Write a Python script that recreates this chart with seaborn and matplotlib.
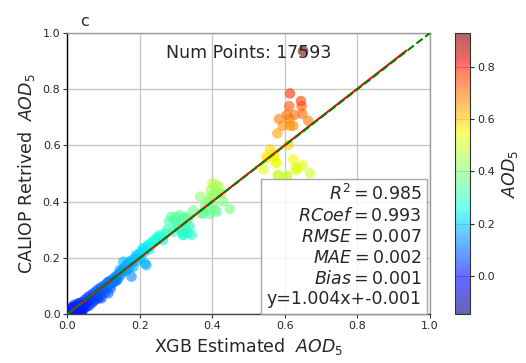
import numpy as np
import matplotlib
matplotlib.use("Agg")
import matplotlib.pyplot as plt
import seaborn as sns

# XGB estimated AOD (x) and CALIOP retrieved AOD (y), representative points
xgb_est = [
    0.004, 0.008, 0.012, 0.015, 0.018, 0.02, 0.022, 0.025, 0.028, 0.03, 0.032, 0.035, 0.038, 0.04, 0.042,
    0.045, 0.048, 0.05, 0.052, 0.055, 0.058, 0.06, 0.062, 0.065, 0.068, 0.07, 0.072, 0.075, 0.078, 0.08,
    0.083, 0.085, 0.088, 0.09, 0.093, 0.095, 0.094, 0.1, 0.102, 0.105, 0.108, 0.11, 0.113, 0.115, 0.118,
    0.12, 0.123, 0.125, 0.128, 0.13, 0.133, 0.136, 0.138, 0.14, 0.143, 0.145, 0.148, 0.15, 0.153, 0.154,
    0.156, 0.159, 0.16, 0.163, 0.165, 0.168, 0.17, 0.172, 0.175, 0.177, 0.18, 0.182, 0.185, 0.188, 0.19,
    0.193, 0.196, 0.2, 0.203, 0.205, 0.209, 0.212, 0.214, 0.218, 0.22, 0.223, 0.226, 0.23, 0.235, 0.24,
    0.246, 0.25, 0.255, 0.26, 0.264, 0.27, 0.005, 0.01, 0.015, 0.02, 0.025, 0.03, 0.035, 0.04, 0.045,
    0.012, 0.018, 0.024, 0.03, 0.113, 0.126, 0.136,
    0.275, 0.28, 0.287, 0.292, 0.295, 0.3, 0.301, 0.305, 0.31, 0.312, 0.315, 0.318, 0.32, 0.324, 0.325,
    0.329, 0.333, 0.333, 0.338, 0.343, 0.319, 0.33,
    0.347, 0.366, 0.37, 0.375, 0.379, 0.386, 0.393, 0.393, 0.40, 0.402, 0.402, 0.407, 0.41, 0.412, 0.412,
    0.419, 0.423, 0.43, 0.448, 0.395, 0.385,
    0.540, 0.549, 0.559, 0.568, 0.575, 0.577, 0.582, 0.606, 0.609, 0.623, 0.628, 0.632, 0.637, 0.649,
    0.669, 0.58, 0.605, 0.549, 0.572,
    0.579, 0.584, 0.594, 0.605, 0.612, 0.614, 0.623, 0.626, 0.612, 0.614, 0.644, 0.646, 0.648, 0.664,
    0.65,
]
caliop_ret = [
    0.003, 0.012, 0.005, 0.018, 0.02, 0.01, 0.026, 0.028, 0.015, 0.004, 0.036, 0.022, 0.01, 0.042, 0.03,
    0.018, 0.05, 0.038, 0.025, 0.058, 0.045, 0.03, 0.065, 0.052, 0.04, 0.072, 0.06, 0.048, 0.08, 0.068,
    0.055, 0.088, 0.075, 0.062, 0.095, 0.082, 0.056, 0.1, 0.09, 0.078, 0.108, 0.097, 0.074, 0.115, 0.104,
    0.092, 0.122, 0.112, 0.115, 0.13, 0.12, 0.133, 0.138, 0.126, 0.145, 0.157, 0.14, 0.15, 0.158, 0.186,
    0.16, 0.163, 0.17, 0.155, 0.175, 0.182, 0.165, 0.18, 0.19, 0.133, 0.185, 0.168, 0.195, 0.2, 0.21,
    0.19, 0.205, 0.216, 0.2, 0.225, 0.234, 0.22, 0.18, 0.174, 0.24, 0.246, 0.23, 0.25, 0.258, 0.262,
    0.269, 0.275, 0.281, 0.27, 0.263, 0.285, 0.012, 0.002, 0.024, 0.004, 0.008, 0.038, 0.014, 0.006, 0.03,
    0.022, 0.032, 0.004, 0.018, 0.115, 0.115, 0.118,
    0.3, 0.33, 0.346, 0.293, 0.335, 0.345, 0.323, 0.31, 0.352, 0.3, 0.293, 0.283, 0.34, 0.346, 0.31,
    0.293, 0.34, 0.287, 0.311, 0.281, 0.281, 0.32,
    0.368, 0.418, 0.358, 0.358, 0.382, 0.4, 0.412, 0.356, 0.465, 0.394, 0.423, 0.37, 0.46, 0.435, 0.364,
    0.451, 0.429, 0.40, 0.374, 0.44, 0.37,
    0.515, 0.554, 0.586, 0.569, 0.538, 0.538, 0.492, 0.492, 0.601, 0.55, 0.519, 0.512, 0.522, 0.53,
    0.501, 0.495, 0.491, 0.56, 0.56,
    0.643, 0.694, 0.670, 0.709, 0.694, 0.670, 0.670, 0.709, 0.740, 0.785, 0.758, 0.740, 0.712, 0.688,
    0.936,
]
num_points = 17593
stats_lines = ["$R^2=0.985$", "$RCoef=0.993$", "$RMSE=0.007$", "$MAE=0.002$", "$Bias=0.001$",
               "y=1.004x+-0.001"]
fit_slope, fit_intercept = 1.004, -0.001
fit_range = [0.0, 0.935]
cbar_ticks = [0.0, 0.2, 0.4, 0.6, 0.8]
axis_ticks = [0.0, 0.2, 0.4, 0.6, 0.8, 1.0]

sns.set_style("whitegrid")
plt.rcParams['font.family'] = ['DejaVu Sans']

fig = plt.figure(figsize=(5.26, 3.63), dpi=100)
ax = fig.add_axes([0.128, 0.135, 0.6895, 0.774])
cax = fig.add_axes([0.865, 0.135, 0.0285, 0.774])

sns.scatterplot(x=xgb_est, y=caliop_ret, c=caliop_ret, cmap="jet", vmin=-0.146, vmax=0.93,
                s=58, alpha=0.6, linewidth=0, ax=ax, zorder=3)
points = ax.collections[0]

fx = np.array(fit_range)
ax.plot(fx, fit_slope * fx + fit_intercept, color="red", lw=1.5, zorder=4)
ax.plot([0, 1], [0, 1], color="green", ls="--", lw=1.5, zorder=5)

ax.set_xlim(0, 1)
ax.set_ylim(0, 1)
ax.set_xticks(axis_ticks)
ax.set_yticks(axis_ticks)
ax.tick_params(labelsize=8, length=3, width=0.8, color="#333333", left=True, bottom=True, pad=2)
ax.grid(True, color="#c8c8c8", lw=1.0)
for side in ["top", "right"]:
    ax.spines[side].set_color("#999999")
ax.spines["left"].set_color("black")
ax.spines["bottom"].set_color("#444444")
for sp in ax.spines.values():
    sp.set_linewidth(1.0)

ax.set_xlabel("XGB Estimated  $AOD_5$", fontsize=12.5, labelpad=4)
ax.set_ylabel("CALIOP Retrived  $AOD_5$", fontsize=12.5, labelpad=4)
ax.text(0.035, 1.015, "c", transform=ax.transAxes, fontsize=11.5, ha="left", va="bottom")
ax.text(0.5, 0.928, f"Num Points: {num_points}", transform=ax.transAxes, fontsize=12.5,
        ha="center", va="center", zorder=6)
ax.text(0.977, 0.02, "\n".join(stats_lines), transform=ax.transAxes, fontsize=12.5,
        ha="right", va="bottom", zorder=6, linespacing=1.2,
        bbox=dict(boxstyle="square,pad=0.3", facecolor="white", edgecolor="#999999", alpha=0.85))

cb = fig.colorbar(points, cax=cax)
cb.set_ticks(cbar_ticks)
cb.ax.tick_params(labelsize=8, length=3, pad=2)
cb.set_label("$AOD_5$", fontsize=12.5, labelpad=4)
cb.outline.set_edgecolor("#333333")

fig.savefig("out.png", dpi=100)
